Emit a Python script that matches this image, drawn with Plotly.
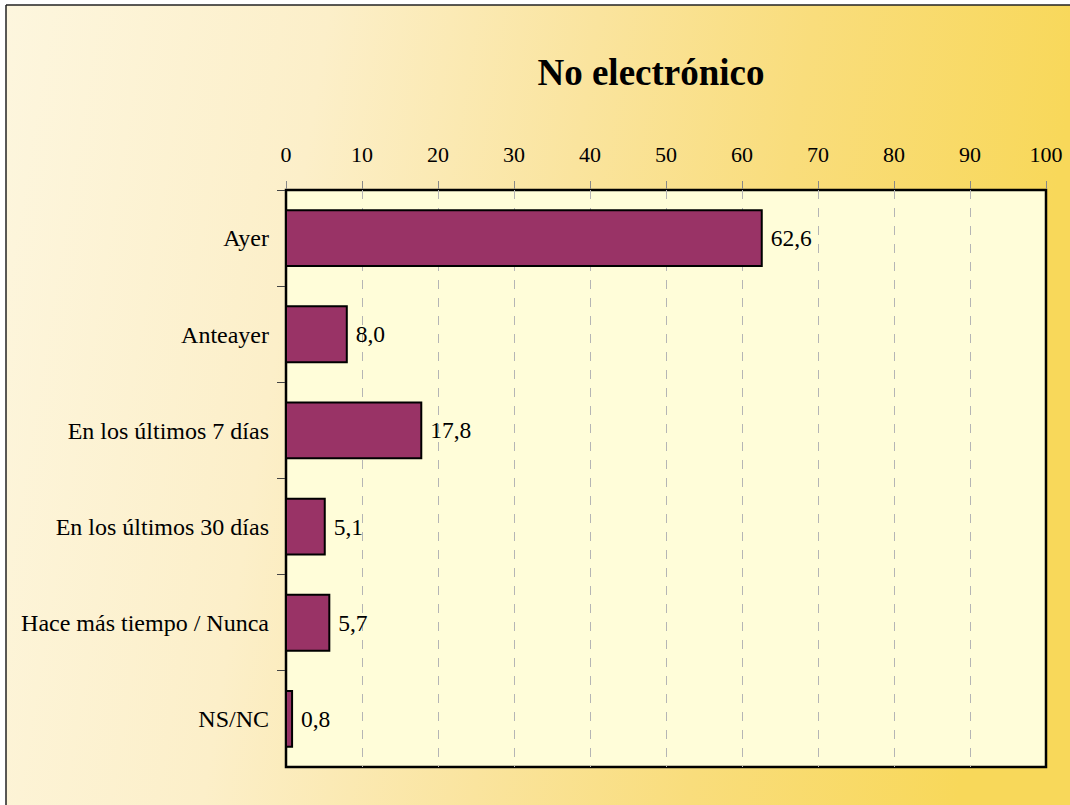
import base64
import plotly.graph_objects as go

categories = ["Ayer", "Anteayer", "En los últimos 7 días", "En los últimos 30 días",
              "Hace más tiempo / Nunca", "NS/NC"]
values = [62.6, 8.0, 17.8, 5.1, 5.7, 0.8]
x_ticks = [0, 10, 20, 30, 40, 50, 60, 70, 80, 90, 100]
title_text = "No electrónico"

W, H = 1070, 805
L, R, T, B = 286, 24, 190, 38
pw, ph = W - L - R, H - T - B

def px_x(p):
    return (p - L) / pw

def px_y(p):
    return (H - B - p) / ph

svg = (
    "<svg xmlns='http://www.w3.org/2000/svg' width='1064' height='800' preserveAspectRatio='none'>"
    "<defs><linearGradient id='g' x1='0' y1='0' x2='1' y2='0.12'>"
    "<stop offset='0' stop-color='#FDF6DE'/>"
    "<stop offset='0.3' stop-color='#FCEFC9'/>"
    "<stop offset='0.55' stop-color='#FAE49E'/>"
    "<stop offset='0.75' stop-color='#F9DD7C'/>"
    "<stop offset='1' stop-color='#F8D85A'/>"
    "</linearGradient></defs>"
    "<rect x='0' y='0' width='1064' height='800' fill='url(#g)'/>"
    "</svg>"
)
src = "data:image/svg+xml;base64," + base64.b64encode(svg.encode()).decode()

fig = go.Figure(go.Bar(
    x=values, y=categories, orientation="h",
    marker=dict(color="#993366", line=dict(color="black", width=2)),
    texttemplate=" %{x:.1f}", textposition="outside",
    textfont=dict(family="Liberation Serif", size=23.5, color="black"),
    cliponaxis=False, width=0.58,
))

fig.update_layout(
    width=W, height=H, autosize=False,
    margin=dict(l=L, r=R, t=T, b=B, pad=0, autoexpand=False),
    paper_bgcolor="white", plot_bgcolor="rgba(0,0,0,0)",
    separators=",.",
    font=dict(family="Liberation Serif", size=22, color="black"),
    showlegend=False,
    title=dict(text="<b>" + title_text + "</b>", font=dict(size=37, family="Liberation Serif", color="black"),
               x=651 / W, xref="container", xanchor="center",
               y=1 - 72 / H, yref="container", yanchor="middle", automargin=False),
    images=[dict(source=src, xref="paper", yref="paper",
                 x=px_x(6), y=px_y(5), sizex=(W - 6) / pw, sizey=(H - 5) / ph,
                 sizing="stretch", xanchor="left", yanchor="top", layer="below")],
    shapes=[
        dict(type="rect", xref="paper", yref="paper", x0=0, x1=1, y0=0, y1=1,
             fillcolor="#FFFDD9", line=dict(color="black", width=2.5), layer="below"),
        dict(type="line", xref="paper", yref="paper", x0=px_x(6), x1=px_x(6),
             y0=px_y(H + 10), y1=px_y(5), line=dict(color="#222222", width=1.5), layer="above"),
        dict(type="line", xref="paper", yref="paper", x0=px_x(6), x1=px_x(W + 10),
             y0=px_y(5), y1=px_y(5), line=dict(color="#222222", width=1.5), layer="above"),
    ],
)

fig.update_xaxes(
    side="top", range=[0, 100], tickvals=x_ticks, ticktext=[str(v) for v in x_ticks],
    showgrid=True, gridcolor="#B5B5B5", griddash="dash", gridwidth=1,
    ticks="outside", ticklen=8, tickcolor="#888888", tickwidth=1,
    ticklabelstandoff=10, zeroline=False, showline=False, automargin=False,
    tickfont=dict(size=22, family="Liberation Serif", color="black"),
)
fig.update_yaxes(
    categoryorder="array", categoryarray=categories, autorange="reversed",
    ticks="outside", tickson="boundaries", ticklen=8, tickcolor="#444444", tickwidth=1,
    ticklabelstandoff=16, showgrid=False, zeroline=False, showline=False, automargin=False,
    tickfont=dict(size=24, family="Liberation Serif", color="black"),
)

fig.write_html(
    "out.html",
    config={"responsive": False, "displayModeBar": False},
    post_script="document.body.style.margin='0';document.body.style.overflow='hidden';",
)
